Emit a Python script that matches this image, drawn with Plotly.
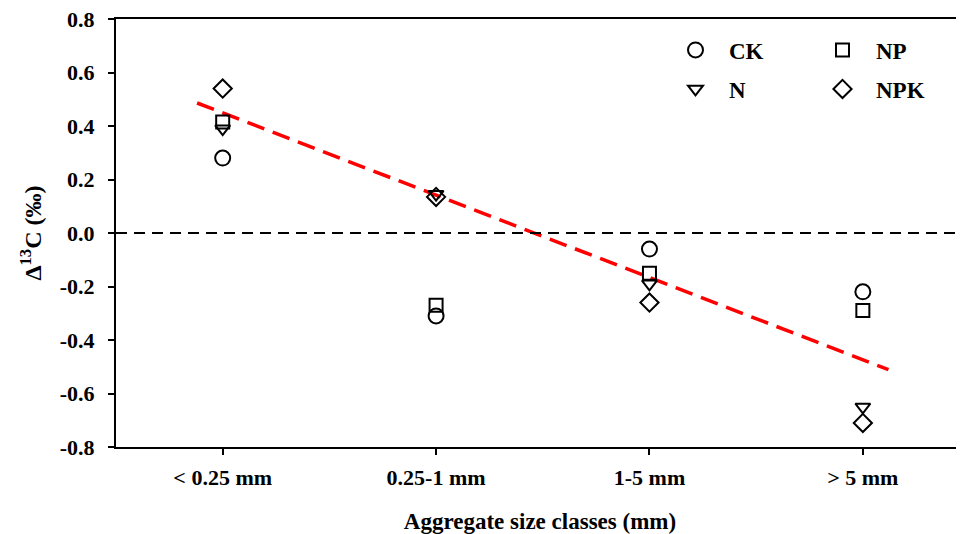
import plotly.graph_objects as go

categories = ["< 0.25 mm", "0.25-1 mm", "1-5 mm", "> 5 mm"]
ck = [0.28, -0.31, -0.06, -0.22]
np_ = [0.415, -0.27, -0.15, -0.29]
n = [0.39, 0.145, -0.19, -0.65]
npk = [0.54, 0.135, -0.26, -0.71]
trend_x = [-0.12, 3.12]
trend_y = [0.486, -0.511]
y_ticks = [-0.8, -0.6, -0.4, -0.2, 0.0, 0.2, 0.4, 0.6, 0.8]
y_tick_labels = ["-0.8", "-0.6", "-0.4", "-0.2", "0.0", "0.2", "0.4", "0.6", "0.8"]

FONT = "Liberation Serif"
xpos = list(range(len(categories)))

# page has an 8px body margin: plot area in page px = x 116..964, y 19..447
W, H = 956, 526
L, R, T, B = 108, 0, 11, 87
PX0, PW, PY1, PH = 116, 848, 447, 428


def px_x(p):
    return (p - PX0) / PW


def px_y(p):
    return (PY1 - p) / PH


fig = go.Figure()
fig.add_trace(go.Scatter(x=trend_x, y=trend_y, mode="lines", showlegend=False,
                         line=dict(color="#ff0000", width=3.5, dash="18px,9px")))

series = [
    ("CK", ck, "circle-open", 15, "legend", 662, 50),
    ("NP", np_, "square-open", 13, "legend2", 809, 50),
    ("N", n, "triangle-down-open", 13, "legend3", 662, 89),
    ("NPK", npk, "diamond-open", 14, "legend4", 809, 89),
]
legends = {}
lfont = dict(family=FONT, size=23, color="black", weight="bold")
for name, vals, sym, size, lg, lx, ly in series:
    fig.add_trace(go.Scatter(x=xpos, y=vals, mode="markers", name=name, legend=lg,
                             marker=dict(symbol=sym, size=size, color="black",
                                         line=dict(color="black", width=2))))
    legends[lg] = dict(x=px_x(lx), y=px_y(ly), xanchor="left", yanchor="middle",
                       orientation="h", bgcolor="rgba(0,0,0,0)", font=lfont,
                       itemwidth=57)

fig.add_hline(y=0, line=dict(color="black", width=2, dash="11px,7px"))

tickfont = dict(family=FONT, size=22, color="black", weight="bold")
fig.update_layout(
    width=W, height=H,
    margin=dict(l=L, r=R, t=T, b=B, autoexpand=False),
    paper_bgcolor="white", plot_bgcolor="white",
    font=dict(family=FONT, color="black"),
    **legends,
    xaxis=dict(range=[-0.5, 3.474], tickvals=xpos, ticktext=categories,
               showline=True, linewidth=2, linecolor="black", mirror=True,
               ticks="outside", ticklen=6, tickwidth=2, tickcolor="black",
               showgrid=False, zeroline=False, tickfont=tickfont, automargin=False,
               ticklabelstandoff=4, ticklabeloverflow="allow",
               title=dict(text="Aggregate size classes (mm)",
                          font=dict(family=FONT, size=23, color="black", weight="bold"),
                          standoff=27)),
    yaxis=dict(range=[-0.8, 0.8], tickvals=y_ticks, ticktext=y_tick_labels,
               showline=True, linewidth=2, linecolor="black",
               ticks="outside", ticklen=6, tickwidth=2, tickcolor="black",
               showgrid=False, zeroline=False, tickfont=tickfont, automargin=False,
               ticklabelstandoff=9, ticklabeloverflow="allow",
               title=dict(text="Δ<sup>13</sup>C (‰)",
                          font=dict(family=FONT, size=24, color="black", weight="bold"),
                          standoff=11)),
)

fig.write_html("out.html")
